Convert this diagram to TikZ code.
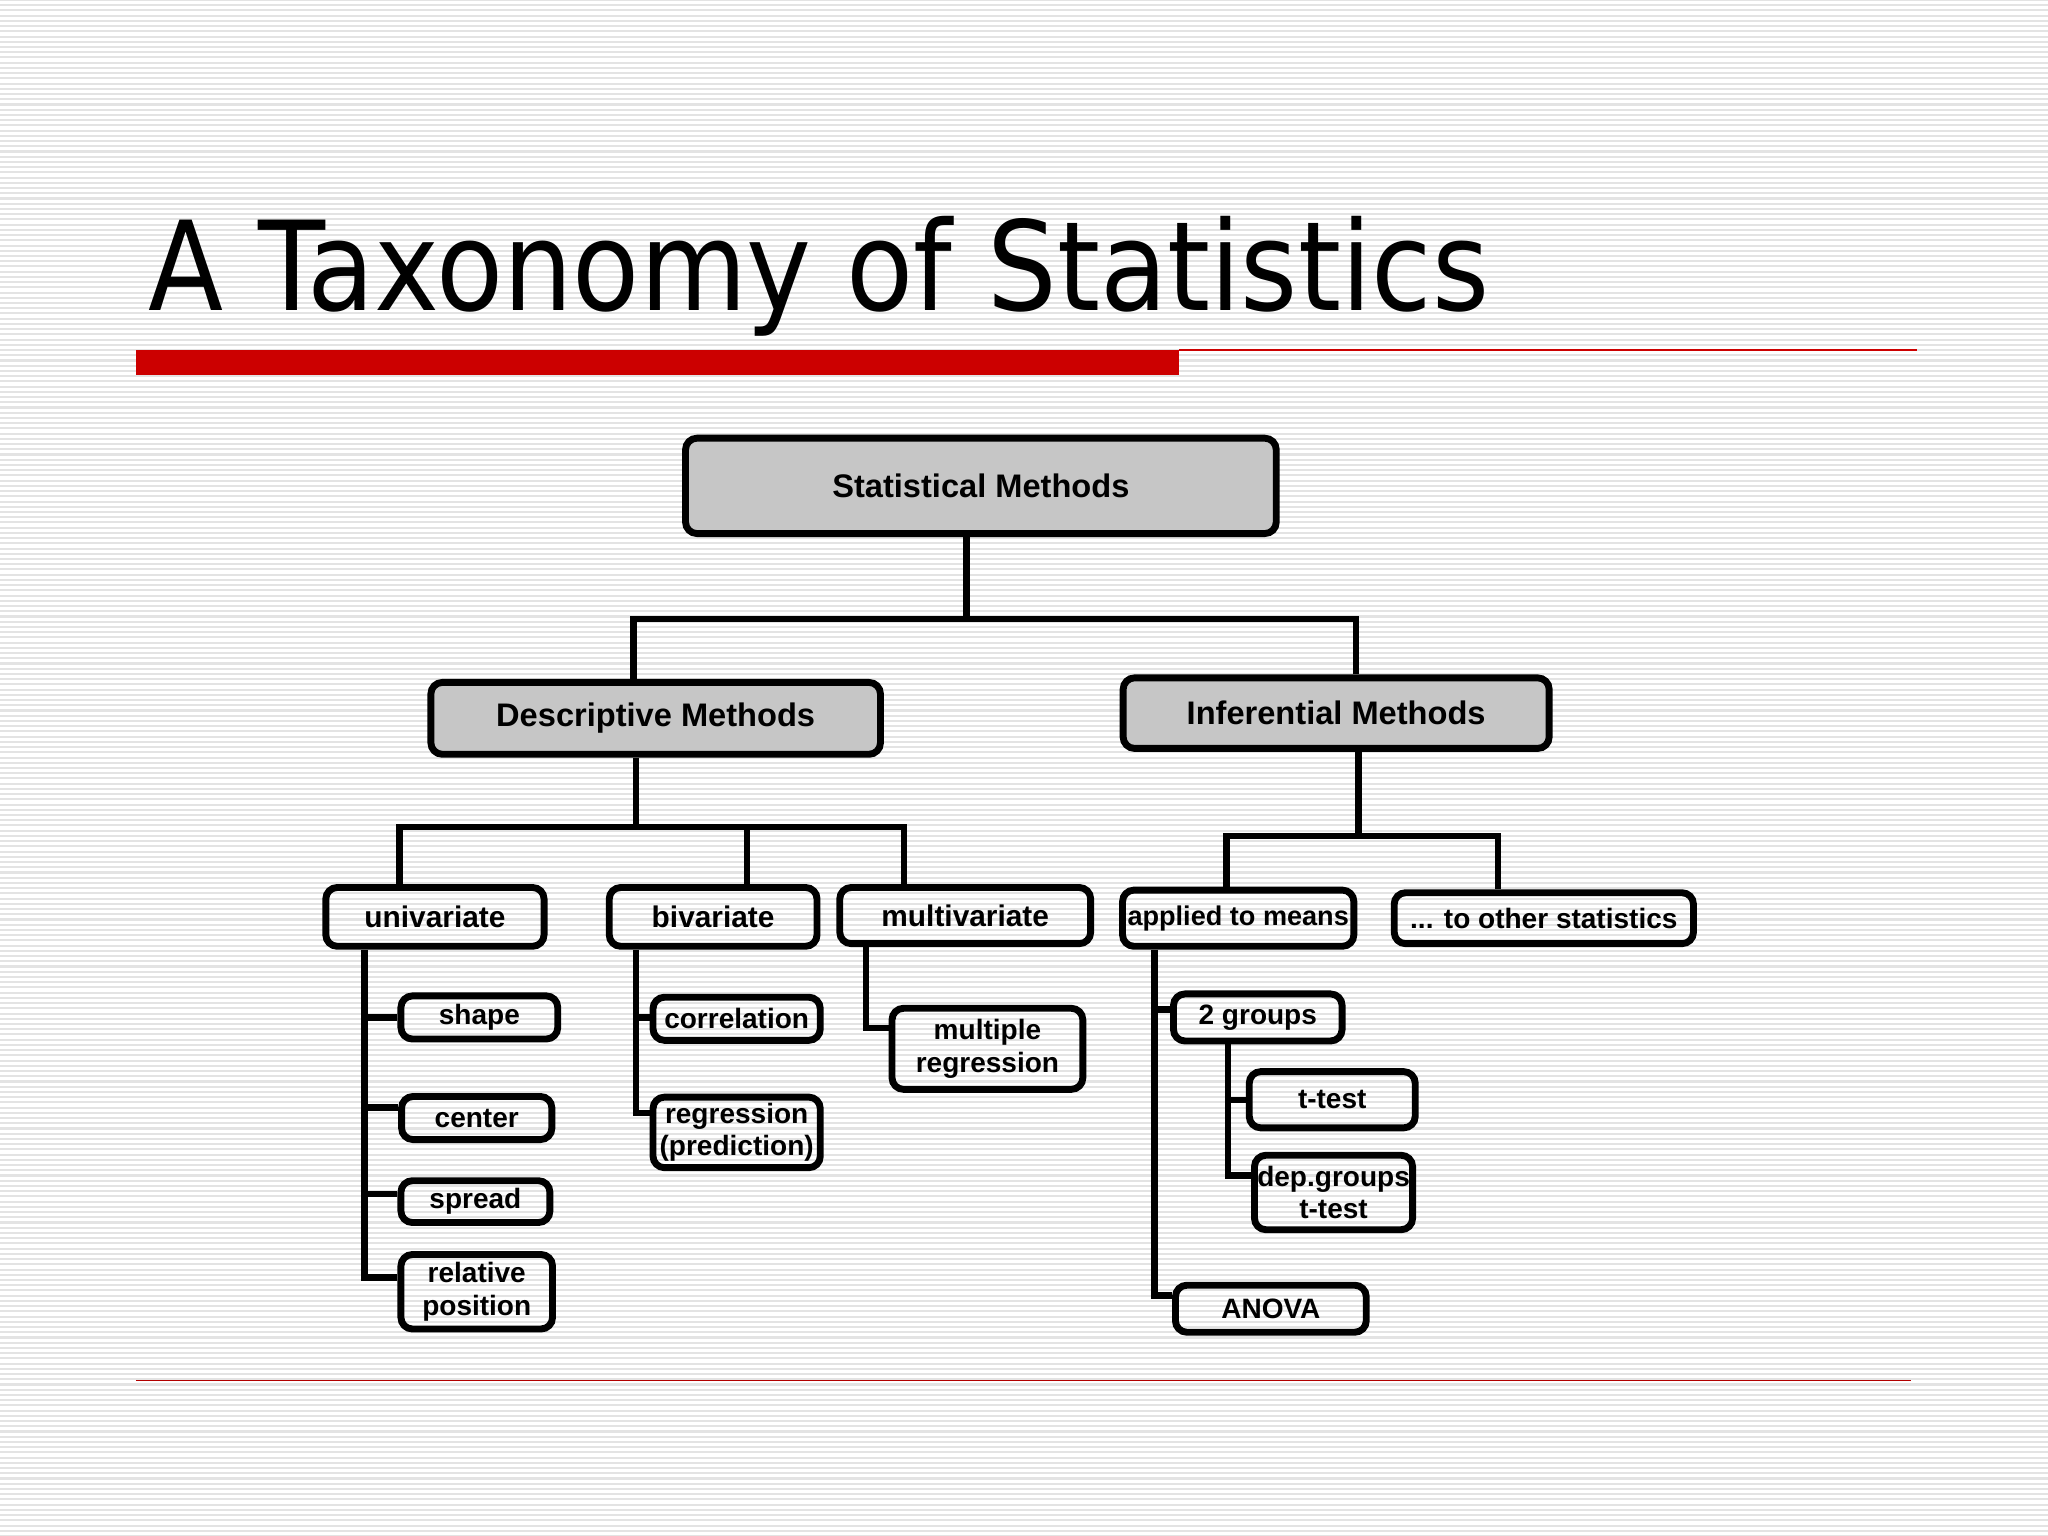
\documentclass[tikz,border=0pt]{standalone}
\usepackage{fontspec}
\setmainfont{Liberation Sans}
\newfontfamily\titlefont{DejaVu Sans}
\usetikzlibrary{calc}
\tikzset{
 bx/.style={draw=black,line width=1.5pt,rounded corners=2.5pt,inner sep=0pt,align=center,font=\fontsize{6.1}{7.1}\selectfont\bfseries},
 gbx/.style={bx,fill=gray!45,font=\fontsize{7.1}{8.5}\selectfont\bfseries},
 ln/.style={line width=1.4pt,black},
 sz/.style 2 args={minimum width=#1cm,minimum height=#2cm}
}
\begin{document}
\begin{tikzpicture}[x=0.01cm,y=-0.01cm]
\useasboundingbox (0,0) rectangle (1568,1176);
\fill[white] (0,0) rectangle (1568,1176);
\foreach \i in {0,4,...,1176} \draw[gray!22,line width=0.45pt] (0,\i) -- (1568,\i);
\node[anchor=base west,inner sep=0pt,font=\titlefont\fontsize{27}{30}\selectfont,xscale=0.885,transform shape] (title) at (113,238) {A Taxonomy of Statistics};
\fill[red!80!black] (104,268) rectangle (903,287);
\draw[red!80!black,line width=0.4pt] (903,268) -- (1468,268);
\draw[red!70!black,line width=0.3pt] (104,1057) -- (1463,1057);

\node[gbx,sz={4.52}{0.73}] (sm) at (751,372) {Statistical Methods};
\node[gbx,sz={3.44}{0.55}] (dm) at (502,550) {Descriptive Methods};
\node[gbx,sz={3.26}{0.54}] (im) at (1023,546) {Inferential Methods};
\node[bx,sz={1.67}{0.45},font=\fontsize{6.5}{8}\selectfont\bfseries] (uni) at (333,702) {univariate};
\node[bx,sz={1.59}{0.45},font=\fontsize{6.5}{8}\selectfont\bfseries] (bi) at (546,702) {bivariate};
\node[bx,sz={1.92}{0.43},font=\fontsize{6.5}{8}\selectfont\bfseries] (mv) at (739,701) {multivariate};
\node[bx,sz={1.77}{0.43},font=\fontsize{5.9}{7}\selectfont\bfseries] (am) at (948,703) {applied to means};
\node[bx,sz={2.29}{0.39}] (os) at (1182,703) {... to other statistics};
\node[bx,sz={1.20}{0.33}] (shape) at (367,779) {shape};
\node[bx,sz={1.15}{0.33}] (center) at (365,856) {center};
\node[bx,sz={1.14}{0.32}] (spread) at (364,920) {spread};
\node[bx,sz={1.16}{0.57}] (rel) at (365,989) {relative\\position};
\node[bx,sz={1.28}{0.33}] (cor) at (564,780) {correlation};
\node[bx,sz={1.28}{0.54}] (reg) at (564,867) {regression\\(prediction)};
\node[bx,sz={1.46}{0.62}] (mr) at (756,803) {multiple\\regression};
\node[bx,sz={1.29}{0.36}] (tg) at (963,779) {2 groups};
\node[bx,sz={1.27}{0.43}] (tt) at (1020,842) {t-test};
\node[bx,sz={1.21}{0.57}] (dg) at (1021,913) {dep.groups\\t-test};
\node[bx,sz={1.46}{0.36}] (anova) at (973,1002) {ANOVA};

\draw[ln] (sm.south -| 740,0) -- (740,474) coordinate (j1);
\draw[ln] (dm.north -| 485,0) |- (j1) -| (im.north -| 1038,0);
\draw[ln] (dm.south -| 487,0) -- (487,633);
\draw[ln] (uni.north -| 306,0) |- (487,633) -| (bi.north -| 572,0);
\draw[ln] (572,633) -| (mv.north -| 692,0);
\draw[ln] (im.south -| 1040,0) -- (1040,640);
\draw[ln] (am.north -| 939,0) |- (1040,640) -| (os.north -| 1147,0);
\draw[ln] (uni.south -| 279,0) |- (rel.west |- 0,978);
\draw[ln] (279,779) -- (shape.west);
\draw[ln] (279,848) -- (center.west |- 0,848);
\draw[ln] (279,914) -- (spread.west |- 0,914);
\draw[ln] (bi.south -| 487,0) |- (reg.west |- 0,852);
\draw[ln] (487,779) -- (cor.west |- 0,779);
\draw[ln] (mv.south -| 663,0) |- (mr.west |- 0,787);
\draw[ln] (am.south -| 884,0) |- (anova.west |- 0,992);
\draw[ln] (884,773) -- (tg.west |- 0,773);
\draw[ln] (tg.south -| 940,0) |- (dg.west |- 0,900);
\draw[ln] (940,842) -- (tt.west);
\end{tikzpicture}
\end{document}
